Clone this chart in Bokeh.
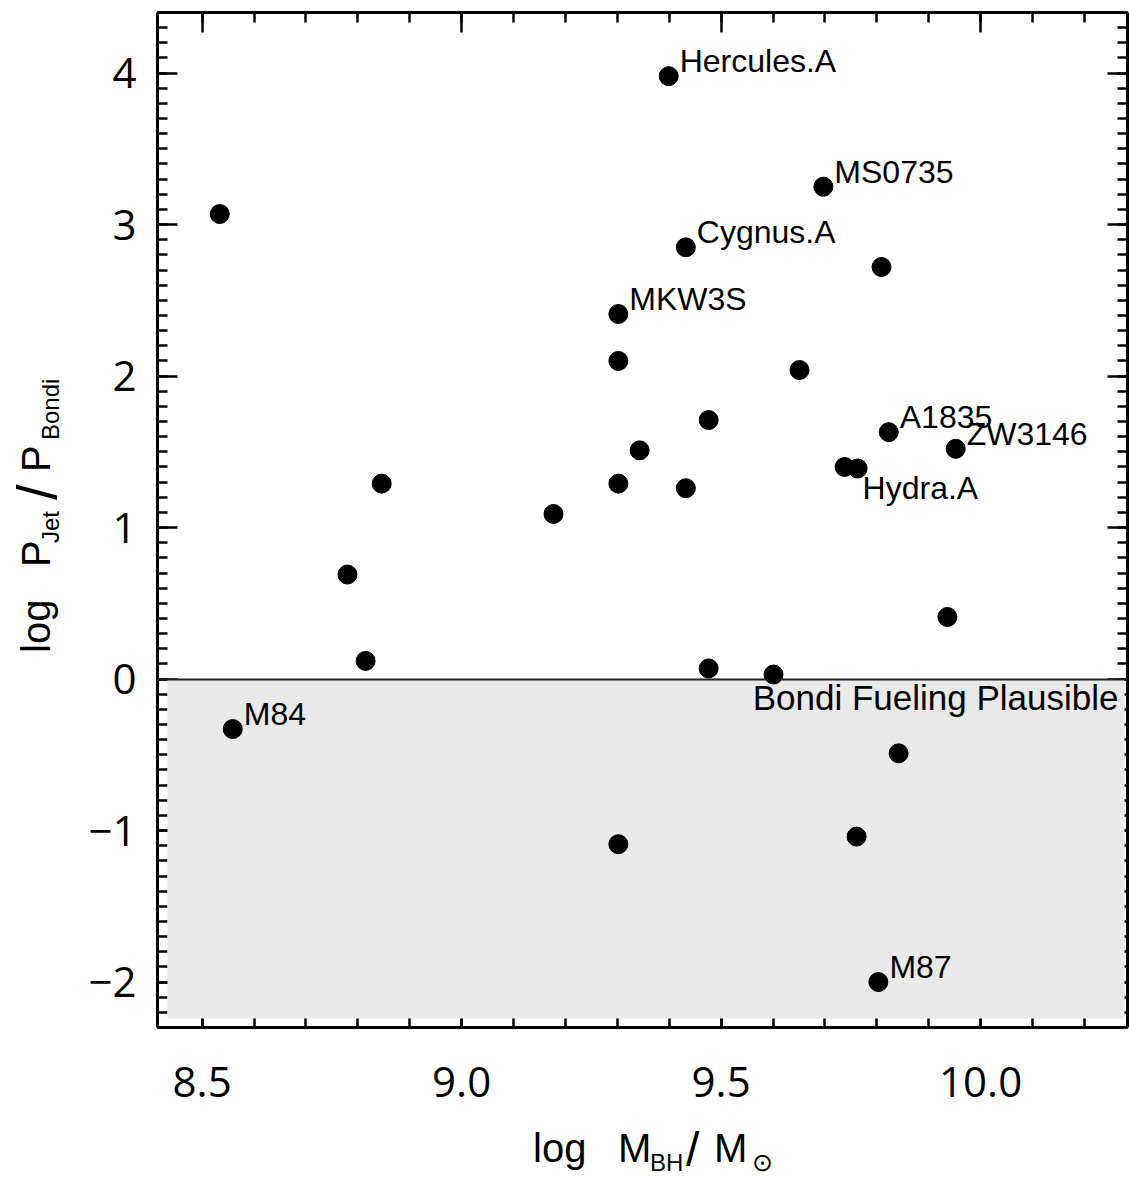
import numpy as np
from bokeh.plotting import figure
from bokeh.models import Range1d, LinearAxis, FixedTicker, ColumnDataSource, Div
from bokeh.layouts import row, column
from bokeh.core.properties import value
from bokeh.embed import file_html
from bokeh.resources import INLINE

# ---------------- data ----------------
LOG_MBH = [8.534, 8.559, 8.780, 8.815, 8.846, 9.177, 9.302, 9.302, 9.302, 9.302,
           9.343, 9.399, 9.432, 9.432, 9.476, 9.476, 9.601, 9.651, 9.697, 9.738,
           9.763, 9.761, 9.809, 9.823, 9.842, 9.803, 9.936, 9.952]
LOG_PJET_PBONDI = [3.07, -0.33, 0.69, 0.12, 1.29, 1.09, 2.41, 2.10, 1.29, -1.09,
                   1.51, 3.98, 2.85, 1.26, 1.71, 0.07, 0.03, 2.04, 3.25, 1.40,
                   1.39, -1.04, 2.72, 1.63, -0.49, -2.00, 0.41, 1.52]
NAMES = ["", "M84", "", "", "", "", "MKW3S", "", "", "",
         "", "Hercules.A", "Cygnus.A", "", "", "", "", "", "MS0735", "",
         "Hydra.A", "", "", "A1835", "", "M87", "", "ZW3146"]

X_TICKS = [8.5, 9.0, 9.5, 10.0]
X_TICK_LABELS = ["8.5", "9.0", "9.5", "10.0"]
Y_TICKS = [-2, -1, 0, 1, 2, 3, 4]
Y_TICK_LABELS = ["\u22122", "\u22121", "0", "1", "2", "3", "4"]
THRESHOLD = 0.0
SHADE_LABEL = "Bondi Fueling Plausible"

# ---------------- layout (page pixels) ----------------
X_START, X_END = 8.414, 10.283
Y_START, Y_END = -2.3, 4.4
PAGE_W, PAGE_H = 1129, 1178
YDIV_W = 76                     # strip holding the y title
FL, FT, FW, FH = 157, 12, 970, 1015   # frame position on the page
FR = PAGE_W - FL - FW           # right border
BOTTOM = 97                     # room under the frame for tick labels
P_H = FT + FH + BOTTOM
XDIV_H = PAGE_H - P_H
TICK_FONT = "Open Sans"
LABEL_FONT = "Liberation Sans"

p = figure(frame_width=FW, frame_height=FH,
           min_border_left=FL - YDIV_W, min_border_top=FT,
           min_border_right=FR, min_border_bottom=BOTTOM,
           x_range=Range1d(X_START, X_END), y_range=Range1d(Y_START, Y_END),
           output_backend="svg", toolbar_location=None,
           background_fill_color="white", border_fill_color="white")
p.grid.visible = False
p.outline_line_color = None

p.add_layout(LinearAxis(), "above")
p.add_layout(LinearAxis(), "right")

x_minor = [round(v, 2) for v in np.arange(8.5, 10.3, 0.1)]
y_minor = [round(v, 2) for v in np.arange(-2.3, 4.45, 0.1)]

for ax in p.xaxis:
    ax.ticker = FixedTicker(ticks=X_TICKS, minor_ticks=x_minor)
for ax in p.yaxis:
    ax.ticker = FixedTicker(ticks=Y_TICKS, minor_ticks=y_minor)

for ax in p.axis:
    ax.axis_line_width = 3
    ax.axis_line_color = "black"
    ax.major_tick_line_width = 2.5
    ax.minor_tick_line_width = 2.5
    ax.major_tick_line_color = "black"
    ax.minor_tick_line_color = "black"
    ax.major_tick_in = 20
    ax.major_tick_out = 0
    ax.minor_tick_in = 10
    ax.minor_tick_out = 0
    ax.axis_label = None

for ax in (p.above[0], p.right[0]):
    ax.major_label_text_font_size = "0px"
    ax.major_label_text_alpha = 0
    ax.major_label_standoff = 0

bx = p.below[0]
bx.major_label_overrides = dict(zip(X_TICKS, X_TICK_LABELS))
bx.major_label_text_font = TICK_FONT
bx.major_label_text_font_size = "42px"
bx.major_label_text_color = "black"
bx.major_label_standoff = 39

ly = p.left[0]
ly.major_label_overrides = dict(zip(Y_TICKS, Y_TICK_LABELS))
ly.major_label_text_font = TICK_FONT
ly.major_label_text_font_size = "42px"
ly.major_label_text_color = "black"
ly.major_label_standoff = 21

# shaded region (slightly inset from the frame, drawn over the ticks)
px_x = (X_END - X_START) / FW
px_y = (Y_END - Y_START) / FH
p.quad(left=X_START + 10 * px_x, right=X_END - 3 * px_x,
       bottom=Y_START + 9 * px_y, top=THRESHOLD,
       fill_color="#e9e9e9", line_color=None, level="annotation")
p.hspan(y=[THRESHOLD], line_color="#222222", line_width=2, level="annotation")

src = ColumnDataSource(dict(x=LOG_MBH, y=LOG_PJET_PBONDI, name=NAMES))
p.scatter("x", "y", source=src, size=19, fill_color="black", line_color="black",
          level="overlay")

# point labels
LABEL_OFFSETS = {"Hydra.A": (5, 20)}
lab_x, lab_y, lab_t, lab_dx, lab_dy = [], [], [], [], []
for xv, yv, nm in zip(LOG_MBH, LOG_PJET_PBONDI, NAMES):
    if nm:
        dx, dy = LABEL_OFFSETS.get(nm, (11, -15))
        lab_x.append(xv); lab_y.append(yv); lab_t.append(nm)
        lab_dx.append(dx); lab_dy.append(dy)
p.text(x=lab_x, y=lab_y, text=lab_t, x_offset=lab_dx, y_offset=lab_dy,
       text_font=value(LABEL_FONT), text_font_size="32px", text_color="black",
       text_align="left", text_baseline="alphabetic", level="overlay")

p.text(x=[X_END], y=[THRESHOLD], text=[SHADE_LABEL], x_offset=-9, y_offset=18,
       text_font=value(LABEL_FONT), text_font_size="35px", text_color="black",
       text_align="right", text_baseline="alphabetic", level="overlay")

# ---------------- axis titles (SVG text with subscripts) ----------------
def piece(text, x, y, size, font=TICK_FONT, rot=False):
    tr = f'translate({x},{y})' + (' rotate(-90)' if rot else '')
    return (f'<text transform="{tr}" font-family="{font}" font-size="{size}" '
            f'fill="black">{text}</text>')

# y title pieces, page coordinates (the strip starts at page x=0, y=0)
y_pieces = [
    piece("log", 50, 653, 40, rot=True),
    piece("P", 50, 567, 40, rot=True),
    piece("Jet", 59, 543, 24, rot=True),
    piece("/", 56, 500, 56, font="DejaVu Sans", rot=True),
    piece("P", 50, 472, 40, rot=True),
    piece("Bondi", 59, 440, 24, rot=True),
]
ysvg = (f'<svg xmlns="http://www.w3.org/2000/svg" width="{YDIV_W}" height="{PAGE_H}" '
        f'style="display:block">' + "".join(y_pieces) + '</svg>')

# x title pieces: page coordinates shifted into the strip below the figure
ox, oy = YDIV_W, P_H
x_pieces = [
    piece("log", 533 - ox, 1162 - oy, 40),
    piece("M", 618 - ox, 1162 - oy, 40),
    piece("BH", 650 - ox, 1171 - oy, 24),
    piece("/", 686 - ox, 1166 - oy, 48, font="DejaVu Sans"),
    piece("M", 714 - ox, 1162 - oy, 40),
    piece("\u2299", 752 - ox, 1171 - oy, 25, font="DejaVu Sans"),
]
xsvg = (f'<svg xmlns="http://www.w3.org/2000/svg" width="{PAGE_W - YDIV_W}" '
        f'height="{XDIV_H}" style="display:block">' + "".join(x_pieces) + '</svg>')

ydiv = Div(text=ysvg, width=YDIV_W, height=PAGE_H, margin=0)
xdiv = Div(text=xsvg, width=PAGE_W - YDIV_W, height=XDIV_H, margin=0)

layout = row(ydiv, column(p, xdiv, spacing=0), spacing=0)

open("out.html", "w").write(file_html(layout, INLINE))
